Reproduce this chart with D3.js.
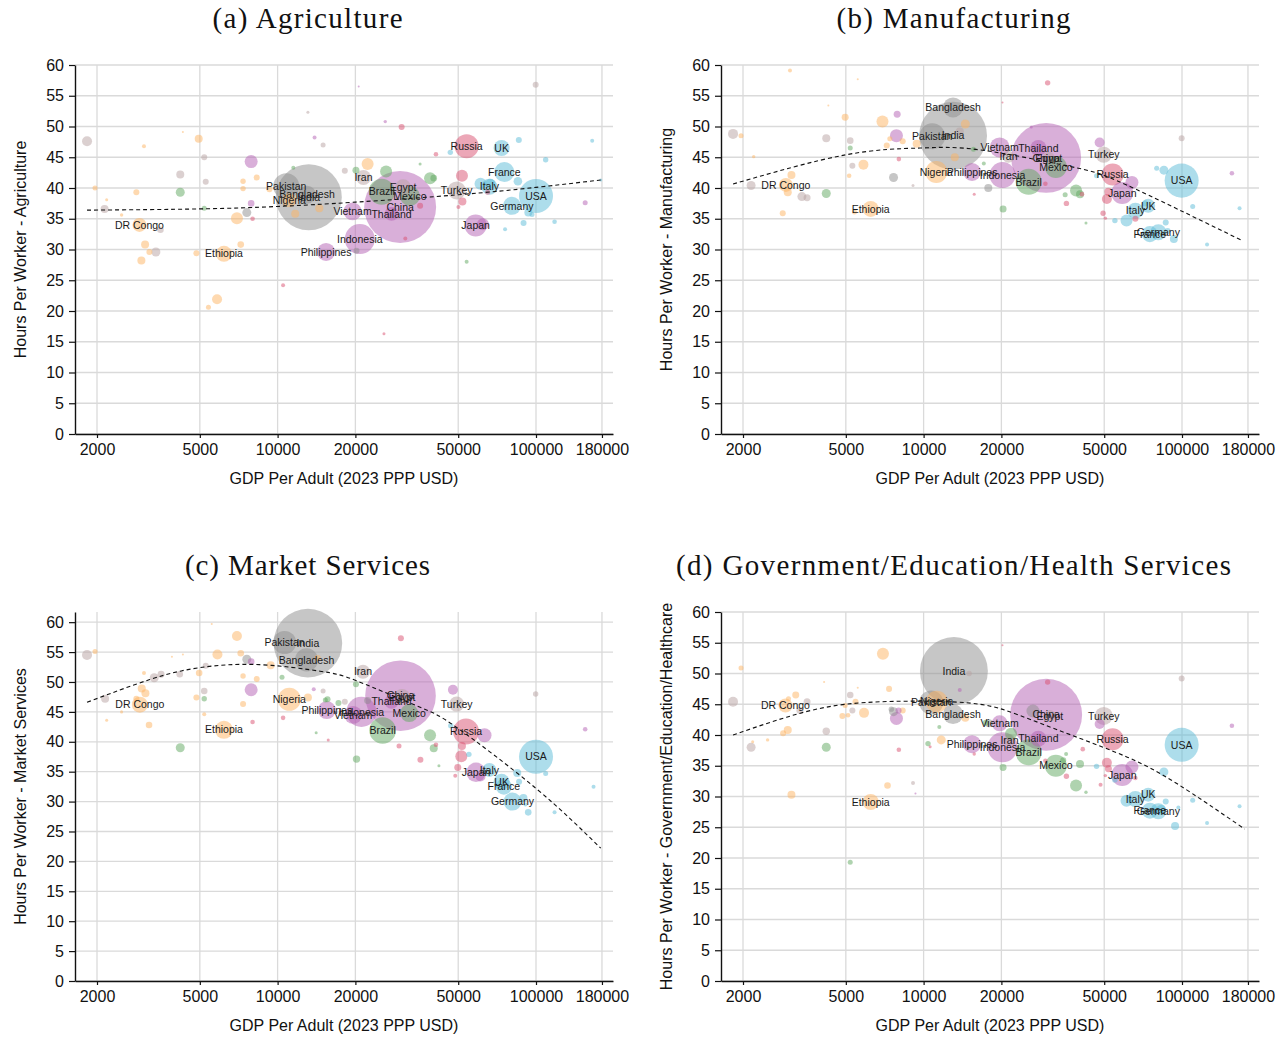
<!DOCTYPE html>
<html><head><meta charset="utf-8">
<script src="https://cdn.jsdelivr.net/npm/d3@7"></script>
<style>
body{margin:0;background:#fff;}
svg{display:block;}
text{font-family:"Liberation Sans",Arial,Helvetica,sans-serif;}
</style></head><body>
<svg id="chart" width="1288" height="1038"></svg>
<script>
// ---------- DATA: [country label, GDP per adult, hours per worker, workers (millions), region] ----------
const xTicks = [2000, 5000, 10000, 20000, 50000, 100000, 180000];
const yTicks = [0,5,10,15,20,25,30,35,40,45,50,55,60];

const agriculture = [
 ["Pakistan",10800,40.3,21.6,"SAS"],["Bangladesh",13000,38.9,10.3,"SAS"],["India",13200,38.5,139,"SAS"],
 ["Nigeria",11100,38.0,6.25,"SSA"],["DR Congo",2920,34.0,6.25,"SSA"],["Ethiopia",6200,29.3,8.2,"SSA"],
 ["Philippines",15400,29.6,10.3,"EAP"],["Indonesia",20800,31.7,28.7,"EAP"],["Vietnam",19500,36.2,10.3,"EAP"],
 ["Iran",21500,41.7,7.2,"MNA"],["Brazil",25300,39.4,21.6,"LAC"],["Egypt",30600,40.1,8.2,"MNA"],
 ["Mexico",32500,38.7,12.8,"LAC"],["China",29800,36.9,165,"EAP"],["Thailand",27600,35.8,6.25,"EAP"],
 ["Russia",53900,46.8,18.4,"ECA"],["UK",73600,46.5,8.2,"NAW"],["France",75400,42.6,12.8,"NAW"],
 ["Italy",66000,40.2,8.2,"NAW"],["Turkey",49300,39.6,10.3,"MNA"],["USA",100000,38.7,36.9,"NAW"],
 ["Germany",80700,37.1,10.3,"NAW"],["Japan",58400,33.9,15.4,"EAP"],
 ["",1830,47.6,3.19,"MNA"],["",4300,49.1,0.13,"SSA"],["",4950,48.0,2.04,"SSA"],["",3040,46.8,0.51,"SSA"],
 ["",5200,45.0,1.15,"MNA"],["",7900,44.3,5.4,"EAP"],["",4200,42.2,2.04,"MNA"],["",5270,41.0,1.15,"MNA"],
 ["",7350,41.1,0.93,"SSA"],["",8300,41.7,1.15,"SSA"],["",7350,39.9,0.93,"SSA"],["",1965,40.0,0.8,"SSA"],
 ["",2840,39.3,1.15,"SSA"],["",4200,39.3,2.58,"LAC"],["",9300,39.8,1.15,"SSA"],["",7900,37.5,1.39,"EAP"],
 ["",2140,36.6,2.04,"MNA"],["",2180,38.1,0.29,"SSA"],["",2490,35.6,0.37,"SSA"],["",5200,36.7,0.8,"LAC"],
 ["",7600,36.0,2.58,"SAS"],["",6960,35.1,4.6,"SSA"],["",8000,35.0,0.67,"ECA"],["",3520,33.2,1.39,"MNA"],
 ["",3070,30.8,2.04,"SSA"],["",3380,29.6,2.58,"MNA"],["",3190,29.6,1.15,"SSA"],["",2970,28.2,2.04,"SSA"],
 ["",4850,29.4,1.15,"SSA"],["",7200,30.8,1.39,"SSA"],["",5830,21.9,3.19,"SSA"],["",5400,20.6,0.8,"SSA"],
 ["",10500,24.2,0.51,"ECA"],["",13100,52.3,0.29,"MNA"],["",13900,48.2,0.51,"EAP"],["",15000,47.0,0.8,"MNA"],
 ["",11500,43.3,0.51,"LAC"],["",18200,42.8,1.15,"MNA"],["",20100,42.9,1.56,"LAC"],["",22300,43.9,4.6,"SSA"],
 ["",11700,35.8,2.04,"SSA"],["",14500,36.7,2.04,"SSA"],["",20200,29.8,1.15,"SAS"],["",20600,56.5,0.13,"EAP"],
 ["",99700,56.8,1.15,"MNA"],["",30200,49.9,1.15,"ECA"],["",26100,50.8,0.37,"EAP"],["",26300,42.7,4.6,"LAC"],
 ["",35600,43.9,0.29,"LAC"],["",41000,45.5,0.67,"ECA"],["",38900,41.6,4.6,"LAC"],["",40200,41.6,1.39,"LAC"],
 ["",46600,45.8,0.93,"NAW"],["",51700,42.0,4.6,"ECA"],["",85800,47.8,1.15,"NAW"],["",109000,44.6,0.93,"NAW"],
 ["",165000,47.7,0.51,"NAW"],["",85100,41.1,2.36,"NAW"],["",61000,40.7,4.6,"NAW"],["",66600,40.7,3.19,"NAW"],
 ["",65000,39.3,0.8,"ECA"],["",51900,37.8,2.04,"ECA"],["",50100,36.9,0.51,"ECA"],["",62300,34.1,4.6,"EAP"],
 ["",93400,36.0,2.04,"NAW"],["",96500,35.7,0.8,"NAW"],["",118000,34.5,0.67,"NAW"],["",89500,34.3,1.15,"NAW"],
 ["",75900,33.3,0.51,"NAW"],["",155000,37.6,0.8,"EAP"],["",178000,41.3,0.29,"NAW"],["",31200,31.8,0.51,"ECA"],
 ["",35600,37.1,1.15,"ECA"],["",53900,28.0,0.51,"LAC"],["",25800,16.3,0.29,"ECA"]
];

const manufacturing = [
 ["Bangladesh",13000,53.1,12.8,"SAS"],["India",13000,48.5,147,"SAS"],["Pakistan",10800,48.4,21.6,"SAS"],
 ["Nigeria",11200,42.6,15.4,"SSA"],["DR Congo",2930,40.5,6.25,"SSA"],["Ethiopia",6240,36.6,8.2,"SSA"],
 ["Philippines",15400,42.6,10.3,"EAP"],["Indonesia",20200,42.1,21.6,"EAP"],["Vietnam",19700,46.6,12.8,"EAP"],
 ["Thailand",27800,46.5,8.2,"EAP"],["Iran",21300,45.1,4.6,"MNA"],["China",29800,44.9,156,"EAP"],
 ["Egypt",30500,44.9,4.6,"MNA"],["Mexico",32500,43.4,15.4,"LAC"],["Brazil",25500,41.0,21.6,"LAC"],
 ["Turkey",49800,45.4,8.2,"MNA"],["Russia",53900,42.2,15.4,"ECA"],["Japan",58700,39.2,15.4,"EAP"],
 ["USA",99700,41.2,36.9,"NAW"],["UK",74000,37.1,6.25,"NAW"],["Italy",66000,36.3,8.2,"NAW"],
 ["Germany",81000,32.8,8.2,"NAW"],["France",75100,32.5,8.2,"NAW"],
 ["",3040,59.1,0.51,"SSA"],["",5560,57.7,0.13,"SSA"],["",4280,53.4,0.13,"SSA"],["",4970,51.5,1.56,"SSA"],
 ["",6930,50.8,4.6,"SSA"],["",7900,52.0,1.56,"EAP"],["",1830,48.8,3.19,"MNA"],["",1965,48.5,0.8,"SSA"],
 ["",4200,48.1,2.04,"MNA"],["",5200,47.7,1.39,"MNA"],["",7850,48.5,5.4,"EAP"],["",7400,48.0,0.8,"SSA"],
 ["",8300,47.6,1.15,"SSA"],["",7200,46.9,1.15,"SSA"],["",9400,47.2,2.04,"SSA"],["",14500,50.4,2.58,"SSA"],
 ["",13800,49.2,2.04,"MNA"],["",5200,46.5,0.8,"LAC"],["",2200,45.1,0.37,"SSA"],["",5300,43.6,1.15,"MNA"],
 ["",5850,43.8,3.19,"SSA"],["",5150,42.0,0.67,"SSA"],["",8020,44.7,0.67,"ECA"],["",7650,41.7,2.58,"SAS"],
 ["",9100,40.4,0.29,"MNA"],["",2150,40.4,2.58,"MNA"],["",3080,42.1,2.04,"SSA"],["",2980,39.3,2.04,"SSA"],
 ["",3380,38.6,2.58,"MNA"],["",3540,38.4,1.56,"MNA"],["",4200,39.1,2.58,"LAC"],["",2850,35.9,1.15,"SSA"],
 ["",5400,36.1,0.8,"SSA"],["",13200,45.0,2.04,"SSA"],["",15600,46.3,0.8,"LAC"],["",17100,44.0,0.51,"LAC"],
 ["",17800,40.0,2.04,"SAS"],["",20300,36.6,1.56,"LAC"],["",15700,39.0,0.29,"ECA"],["",20200,53.9,0.13,"ECA"],
 ["",30200,57.1,0.93,"ECA"],["",26100,49.9,0.29,"EAP"],["",48000,47.4,3.19,"EAP"],["",99700,48.1,1.15,"MNA"],
 ["",156000,42.4,0.67,"EAP"],["",79800,43.2,0.8,"NAW"],["",85100,42.9,2.58,"NAW"],["",46700,42.0,0.8,"NAW"],
 ["",64000,40.9,5.4,"EAP"],["",38900,39.6,4.6,"LAC"],["",40300,39.0,2.04,"LAC"],["",41000,39.0,0.67,"ECA"],
 ["",35300,38.9,0.8,"LAC"],["",29600,40.7,0.67,"ECA"],["",51900,39.4,2.04,"ECA"],["",51200,38.2,3.19,"ECA"],
 ["",35700,37.5,0.93,"ECA"],["",49500,35.9,0.93,"ECA"],["",50500,35.1,0.37,"ECA"],["",42500,34.3,0.29,"LAC"],
 ["",55000,34.7,0.93,"NAW"],["",61000,34.7,4.6,"NAW"],["",66000,35.0,1.15,"ECA"],["",72000,37.5,1.15,"NAW"],
 ["",86500,34.4,1.15,"NAW"],["",93000,31.7,2.04,"NAW"],["",88000,33.0,1.15,"NAW"],["",110000,37.0,0.8,"NAW"],
 ["",167000,36.7,0.51,"NAW"],["",125000,30.8,0.51,"NAW"]
];

const marketServices = [
 ["India",13100,56.5,150,"SAS"],["Pakistan",10640,56.6,17,"SAS"],["Bangladesh",12940,53.7,17,"SAS"],
 ["Iran",21400,51.7,6.25,"MNA"],["Nigeria",11100,47.1,17,"SSA"],["Philippines",15500,45.3,10.3,"EAP"],
 ["Vietnam",19600,44.5,10.3,"EAP"],["Indonesia",21100,45.0,28.7,"EAP"],["Thailand",27600,46.7,6.25,"EAP"],
 ["Egypt",30300,47.5,8.2,"MNA"],["China",29900,47.7,159,"EAP"],["Mexico",32300,44.8,10.3,"LAC"],
 ["Brazil",25500,41.9,22.5,"LAC"],["Turkey",49300,46.3,7.2,"MNA"],["Russia",53600,41.7,21.6,"ECA"],
 ["USA",100000,37.5,36.9,"NAW"],["Japan",58600,34.9,12.0,"EAP"],["Italy",66000,35.3,6.25,"NAW"],
 ["UK",73600,33.3,8.2,"NAW"],["France",75100,32.5,8.2,"NAW"],["Germany",81100,30.0,10.3,"NAW"],
 ["DR Congo",2930,46.2,8.2,"SSA"],["Ethiopia",6200,42.0,10.3,"SSA"],
 ["",1830,54.5,3.19,"MNA"],["",1965,55.1,0.8,"SSA"],["",2150,47.2,2.04,"MNA"],["",2180,43.6,0.29,"SSA"],
 ["",2490,45.0,0.29,"SSA"],["",3040,51.5,0.51,"SSA"],["",2980,48.9,2.04,"SSA"],["",3080,48.1,2.04,"SSA"],
 ["",2840,47.2,1.15,"SSA"],["",3180,42.8,1.39,"SSA"],["",3330,50.7,2.58,"MNA"],["",3540,51.3,1.56,"MNA"],
 ["",3900,54.2,0.13,"SSA"],["",4300,54.6,0.13,"SSA"],["",4180,51.3,1.39,"MNA"],["",4200,39.0,2.58,"LAC"],
 ["",4970,51.5,1.39,"SSA"],["",4850,47.4,1.15,"SSA"],["",5200,47.2,0.93,"LAC"],["",5200,48.5,1.39,"MNA"],
 ["",5200,44.6,0.51,"SSA"],["",5270,52.7,1.15,"MNA"],["",5560,59.7,0.13,"SSA"],["",5850,54.6,3.19,"SSA"],
 ["",6960,57.7,3.19,"SSA"],["",7200,54.8,1.39,"SSA"],["",7350,51.0,0.93,"SSA"],["",8300,50.5,1.15,"SSA"],
 ["",7600,53.8,2.58,"SAS"],["",7900,53.4,1.39,"EAP"],["",7900,48.7,5.4,"EAP"],["",7350,46.3,1.15,"SSA"],
 ["",8000,43.3,0.67,"ECA"],["",9400,52.8,2.04,"SSA"],["",10400,50.8,0.8,"LAC"],["",10500,44.0,0.67,"ECA"],
 ["",13100,47.4,2.04,"SSA"],["",13800,48.8,0.51,"EAP"],["",15000,48.5,0.8,"MNA"],["",15300,47.0,0.8,"LAC"],
 ["",14300,54.0,1.15,"SSA"],["",14100,41.5,0.29,"LAC"],["",15700,40.3,0.29,"ECA"],["",15600,47.1,1.15,"LAC"],
 ["",17200,46.5,1.15,"LAC"],["",18200,46.7,1.15,"MNA"],["",20100,49.6,1.15,"LAC"],["",30000,57.3,1.15,"ECA"],
 ["",22300,46.9,1.56,"SAS"],["",20200,37.1,1.75,"LAC"],["",29500,39.3,0.8,"ECA"],["",38900,41.1,4.6,"LAC"],
 ["",40200,38.9,2.04,"LAC"],["",41000,39.5,0.67,"ECA"],["",42100,36.0,0.29,"LAC"],["",35700,37.0,1.15,"ECA"],
 ["",47700,48.7,3.19,"EAP"],["",46800,42.7,0.93,"NAW"],["",51700,39.3,2.04,"ECA"],["",51400,37.6,4.6,"ECA"],
 ["",49800,35.7,1.56,"ECA"],["",48700,34.3,0.51,"ECA"],["",55000,37.9,0.93,"NAW"],["",63200,41.1,6.25,"EAP"],
 ["",61000,34.2,3.19,"EAP"],["",84600,34.8,2.04,"NAW"],["",86000,33.3,1.15,"NAW"],["",109000,34.7,0.8,"NAW"],
 ["",89400,30.6,2.04,"NAW"],["",93300,28.2,1.39,"NAW"],["",91000,29.5,0.51,"NAW"],["",118000,28.2,0.51,"NAW"],
 ["",167000,32.5,0.51,"NAW"],["",155000,42.1,0.67,"EAP"],["",99700,48.0,0.93,"MNA"]
];

const government = [
 ["India",13100,50.4,147,"SAS"],["Pakistan",10700,45.3,18.4,"SAS"],["Nigeria",11240,45.4,15.4,"SSA"],
 ["Bangladesh",13000,43.4,12.8,"SAS"],["DR Congo",2920,44.8,6.25,"SSA"],["Ethiopia",6240,29.1,8.2,"SSA"],
 ["Philippines",15400,38.5,10.3,"EAP"],["Vietnam",19700,41.9,8.2,"EAP"],["Indonesia",20200,38.0,28.7,"EAP"],
 ["Iran",21500,39.2,4.6,"MNA"],["Thailand",27800,39.4,8.2,"EAP"],["Brazil",25500,37.2,21.6,"LAC"],
 ["China",29800,43.3,165,"EAP"],["Egypt",30800,43.1,4.6,"MNA"],["Mexico",32500,35.0,15.4,"LAC"],
 ["Turkey",49800,43.1,10.3,"MNA"],["Russia",53900,39.3,15.4,"ECA"],["USA",99700,38.4,36.9,"NAW"],
 ["Japan",58700,33.5,15.4,"EAP"],["UK",74000,30.3,6.25,"NAW"],["Italy",66000,29.6,8.2,"NAW"],
 ["Germany",81000,27.6,8.2,"NAW"],["France",75100,27.7,8.2,"NAW"],
 ["",1965,50.9,0.8,"SSA"],["",1830,45.4,3.19,"MNA"],["",2150,38.0,2.58,"MNA"],["",2180,38.9,0.29,"SSA"],
 ["",2490,39.2,0.37,"SSA"],["",2860,40.3,1.15,"SSA"],["",2980,40.8,2.04,"SSA"],["",3080,30.3,2.04,"SSA"],
 ["",3200,46.5,1.56,"SSA"],["",3000,45.9,0.8,"SSA"],["",3320,44.0,1.56,"MNA"],["",3540,45.4,1.56,"MNA"],
 ["",4120,48.6,0.13,"SSA"],["",4200,40.6,1.75,"MNA"],["",4200,38.0,2.58,"LAC"],["",5200,46.5,1.39,"MNA"],
 ["",4970,44.8,0.8,"SSA"],["",5300,44.0,1.15,"MNA"],["",5450,45.4,1.15,"SSA"],["",4850,43.1,1.15,"SSA"],
 ["",5100,43.2,0.67,"SSA"],["",5880,43.6,3.19,"SSA"],["",5560,47.7,0.13,"SSA"],["",6960,53.2,4.6,"SSA"],
 ["",7350,47.5,1.15,"SSA"],["",7500,44.2,0.93,"SAS"],["",7650,43.8,2.58,"SAS"],["",7850,42.7,5.4,"EAP"],
 ["",8300,44.0,1.15,"SSA"],["",8000,44.0,1.15,"EAP"],["",7250,31.8,1.39,"SSA"],["",9100,32.2,0.51,"MNA"],
 ["",9300,30.5,0.13,"EAP"],["",8020,37.6,0.67,"ECA"],["",10400,38.6,0.93,"LAC"],["",10600,38.1,0.29,"ECA"],
 ["",11700,39.2,2.58,"SSA"],["",11500,41.3,0.51,"LAC"],["",13800,47.3,0.51,"EAP"],["",15000,50.0,0.93,"MNA"],
 ["",14500,42.8,2.04,"SSA"],["",14900,37.9,0.29,"LAC"],["",15700,36.9,0.37,"ECA"],["",20200,54.6,0.13,"ECA"],
 ["",17900,41.9,2.04,"SAS"],["",20300,34.7,1.56,"LAC"],["",5200,19.3,0.8,"LAC"],["",30200,48.6,0.93,"ECA"],
 ["",26500,43.9,5.4,"SAS"],["",48000,41.8,3.19,"EAP"],["",99700,49.2,1.15,"MNA"],["",156000,41.5,0.67,"EAP"],
 ["",17400,42.0,1.15,"LAC"],["",21800,40.2,4.6,"LAC"],["",35600,36.9,0.51,"LAC"],["",34700,35.9,1.15,"LAC"],
 ["",40300,35.3,2.04,"LAC"],["",38900,31.8,4.6,"LAC"],["",42500,30.7,0.37,"LAC"],["",41300,37.7,0.67,"ECA"],
 ["",29600,35.8,0.67,"ECA"],["",35700,33.3,0.93,"ECA"],["",48400,31.9,0.51,"ECA"],["",51200,35.5,3.19,"ECA"],
 ["",51900,34.5,1.56,"ECA"],["",50500,33.4,0.37,"ECA"],["",46700,34.9,0.93,"NAW"],["",64000,34.8,5.4,"EAP"],
 ["",66000,33.0,0.67,"ECA"],["",55000,32.7,0.93,"NAW"],["",85100,34.0,2.58,"NAW"],["",61000,29.3,4.6,"NAW"],
 ["",86500,29.2,1.15,"NAW"],["",83000,27.8,3.19,"NAW"],["",96800,28.2,0.51,"NAW"],["",110000,29.4,0.8,"NAW"],
 ["",94000,25.2,2.04,"NAW"],["",125000,25.7,0.51,"NAW"],["",167000,28.4,0.51,"NAW"]
];

// dashed fitted curves: [GDP per adult, hours]
const fitAgriculture = [[1830,36.4],[5000,36.6],[10000,37.0],[20000,37.7],[50000,38.9],[100000,40.1],[178000,41.3]];
const fitManufacturing = [[1830,40.65],[5000,45.4],[9700,46.5],[16500,46.2],[36900,43.5],[61000,40.5],[172000,31.4]];
const fitMarketServices = [[1830,46.6],[3200,50.4],[5000,52.4],[8500,52.9],[14600,51.8],[20200,50.2],[34600,46.0],[49300,42.4],[100000,32.2],[178000,22.2]];
const fitGovernment = [[1830,40.0],[2950,42.9],[5000,45.0],[9700,45.5],[16500,45.0],[23500,43.2],[36700,40.1],[61400,36.4],[95500,32.1],[175000,24.7]];

const titles = ["(a) Agriculture","(b) Manufacturing","(c) Market Services","(d) Government/Education/Health Services"];
const yLabels = ["Hours Per Worker - Agriculture","Hours Per Worker - Manufacturing","Hours Per Worker - Market Services","Hours Per Worker - Government/Education/Healthcare"];
const xLabel = "GDP Per Adult (2023 PPP USD)";

// ---------- STYLE / LAYOUT ----------
const regionColor = {SSA:"#fdb462", SAS:"#8e8e8e", EAP:"#b360b3", LAC:"#5fa75f", ECA:"#d9506f", NAW:"#5bbbd7", MNA:"#b7a2a2"};
const layout = [
 {data:agriculture, fit:fitAgriculture, left:75, right:613, top:65, bottom:434, yMax:60, cx:307.5, ty:28, tlen:190},
 {data:manufacturing, fit:fitManufacturing, left:721, right:1259, top:65, bottom:434, yMax:60, cx:953.5, ty:28, tlen:234},
 {data:marketServices, fit:fitMarketServices, left:75, right:613, top:612, bottom:981, yMax:61.7, cx:307.5, ty:575, tlen:245},
 {data:government, fit:fitGovernment, left:721, right:1259, top:612, bottom:981, yMax:60, cx:953.5, ty:575, tlen:555}
];

const svg = d3.select("#chart");
const rScale = d3.scaleSqrt().domain([0,100]).range([0,28]);

layout.forEach((p,i)=>{
  const g = svg.append("g");
  const xRef = d3.scaleLog().domain([2000,100000]).range([p.left+22, p.left+461]);
  const x = d3.scaleLog().domain([xRef.invert(p.left), xRef.invert(p.right)]).range([p.left, p.right]);
  const y = d3.scaleLinear().domain([0,p.yMax]).range([p.bottom,p.top]);

  // grid
  g.append("g").selectAll("line").data(yTicks).join("line")
    .attr("x1",p.left).attr("x2",p.right).attr("y1",d=>y(d)).attr("y2",d=>y(d))
    .attr("stroke","#dadada").attr("stroke-width",1.3);
  g.append("g").selectAll("line").data(xTicks).join("line")
    .attr("x1",d=>x(d)).attr("x2",d=>x(d)).attr("y1",p.top).attr("y2",p.bottom)
    .attr("stroke","#dadada").attr("stroke-width",1.3);

  // bubbles
  const pts = p.data.map(d=>({name:d[0],gdp:d[1],h:d[2],w:d[3],reg:d[4]})).sort((a,b)=>b.w-a.w);
  g.append("g").selectAll("circle").data(pts).join("circle")
    .attr("cx",d=>x(d.gdp)).attr("cy",d=>y(d.h)).attr("r",d=>rScale(d.w))
    .attr("fill",d=>regionColor[d.reg]).attr("fill-opacity",0.5);

  // fit line
  g.append("path").datum(p.fit)
    .attr("d", d3.line().x(d=>x(d[0])).y(d=>y(d[1])).curve(d3.curveNatural))
    .attr("fill","none").attr("stroke","#111").attr("stroke-width",1.1).attr("stroke-dasharray","4,3");

  // labels
  g.append("g").selectAll("text").data(pts.filter(d=>d.name)).join("text")
    .attr("x",d=>x(d.gdp)).attr("y",d=>y(d.h)).attr("dy","0.35em")
    .attr("text-anchor","middle").attr("font-size",10.5).attr("fill","#1a1a1a")
    .text(d=>d.name);

  // axes
  const xa = g.append("g").attr("transform",`translate(0,${p.bottom})`)
    .call(d3.axisBottom(x).tickValues(xTicks).tickFormat(d3.format("d")).tickSize(4).tickSizeOuter(0).tickPadding(6));
  const ya = g.append("g").attr("transform",`translate(${p.left},0)`)
    .call(d3.axisLeft(y).tickValues(yTicks).tickSize(6).tickSizeOuter(0).tickPadding(5));
  [xa,ya].forEach(a=>{
    a.attr("font-family",null).attr("font-size",null);
    a.select(".domain").attr("stroke","#111").attr("stroke-width",1.4);
    a.selectAll(".tick line").attr("stroke","#111").attr("stroke-width",1.2);
    a.selectAll(".tick text").attr("font-size",16).attr("fill","#111")
      .style("font-family","'Liberation Sans',Arial,sans-serif");
  });

  // axis titles
  g.append("text").attr("x",(p.left+p.right)/2).attr("y",p.bottom+50)
    .attr("text-anchor","middle").attr("font-size",16).attr("fill","#111").text(xLabel);
  g.append("text").attr("transform","rotate(-90)")
    .attr("x",-(p.top+p.bottom)/2).attr("y",p.left-49)
    .attr("text-anchor","middle").attr("font-size",16).attr("fill","#111").text(yLabels[i]);

  // panel title
  g.append("text").attr("x",p.cx).attr("y",p.ty).attr("text-anchor","middle")
    .style("font-family","'Liberation Serif','Times New Roman',serif")
    .attr("font-size",29).attr("fill","#111")
    .attr("textLength",p.tlen).attr("lengthAdjust","spacing")
    .text(titles[i]);
});
</script>
</body></html>
